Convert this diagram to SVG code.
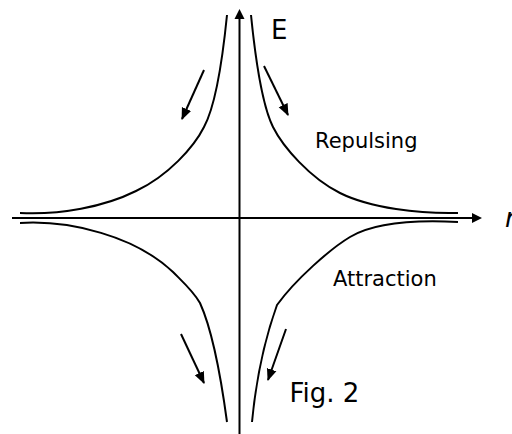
<svg xmlns="http://www.w3.org/2000/svg" width="512" height="434" viewBox="0 0 512 434">
<style>
.ax{stroke:#000;stroke-width:2;fill:none}
.cv{stroke:#000;stroke-width:2;fill:none}
.ar{stroke:#000;stroke-width:2;fill:none;marker-end:url(#ah)}
.t{font-family:"DejaVu Sans",Verdana,sans-serif;fill:#000}
</style>
<defs>
<marker id="ah" markerUnits="userSpaceOnUse" markerWidth="13" markerHeight="13" viewBox="0 0 13 13" refX="11" refY="6.5" orient="auto">
<path d="M0,1.5 L12,6.5 L0,11.5 Z" fill="#000"/>
</marker>
<marker id="axh" markerUnits="userSpaceOnUse" markerWidth="12" markerHeight="12" viewBox="0 0 12 12" refX="1" refY="6" orient="auto">
<path d="M0,1 L10,6 L0,11 Z" fill="#000"/>
</marker>
</defs>
<rect width="512" height="434" fill="#fff"/>
<g id="axes">
<line class="ax" x1="12" y1="218" x2="473" y2="218" marker-end="url(#axh)"/>
<line class="ax" x1="239.5" y1="434" x2="239.5" y2="18" marker-end="url(#axh)"/>
</g>
<g id="curves">
<path class="cv" d="M251,15 C255,55 262,105 273,127 C283,147 310,178 340,193 C370,208 420,214 458,213"/>
<path class="cv" d="M227,15 C223,55 216,105 204,127 C194,147 168,176 136,191 C104,207 60,215 20,213"/>
<path class="cv" d="M20,223 C70,220 135,236 173,272 C185,284 194,292 200,303 C210,325 220,370 227,422"/>
<path class="cv" d="M458,222 C420,220 375,222 350,237 C330,249 295,280 277,305 C268,330 257,370 252,422"/>
</g>
<g id="arrows">
<line class="ar" x1="204" y1="70" x2="182" y2="119"/>
<line class="ar" x1="264" y1="66" x2="288" y2="115"/>
<line class="ar" x1="181" y1="334" x2="204" y2="383"/>
<line class="ar" x1="286" y1="329" x2="268" y2="380"/>
</g>
<g id="labels">
<text class="t" x="271" y="39" font-size="26">E</text>
<text class="t" x="505" y="227" font-size="26" font-style="italic">r</text>
<text class="t" x="315" y="148" font-size="21">Repulsing</text>
<text class="t" x="333" y="286" font-size="21">Attraction</text>
<text class="t" x="289.5" y="402" font-size="26">Fig. 2</text>
</g>
</svg>
